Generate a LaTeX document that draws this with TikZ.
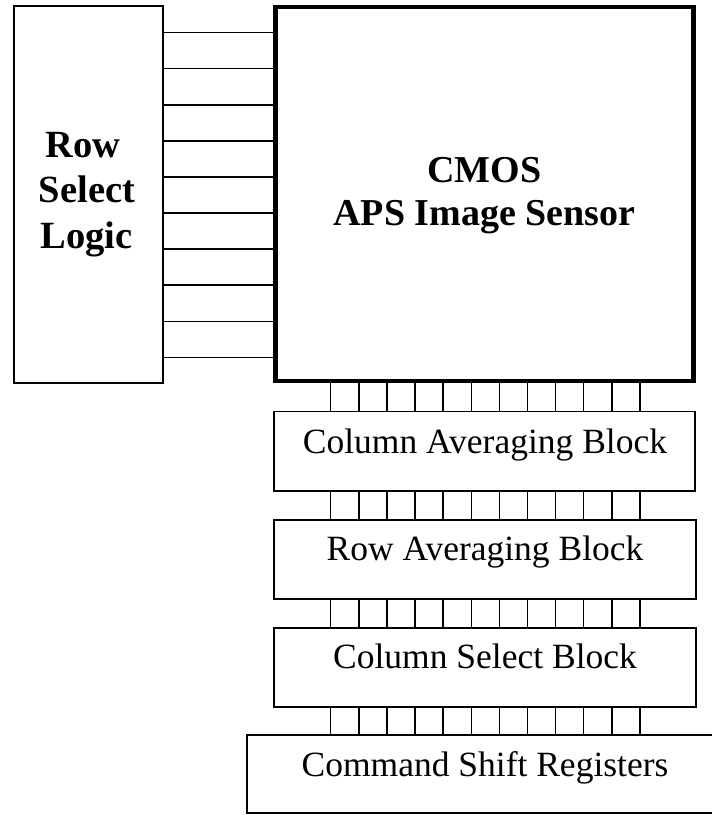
\documentclass[tikz,border=0pt]{standalone}
\usepackage{fontspec}
\setmainfont{Liberation Serif}
\begin{document}
\begin{tikzpicture}[x=1pt,y=-1pt,
  thinbox/.style={draw, line width=1.4pt, inner sep=0pt, outer sep=0pt, anchor=north west},
  thickbox/.style={draw, line width=4.5pt, inner sep=0pt, outer sep=0pt, anchor=north west},
  wire/.style={line width=1.4pt},
  boldlbl/.style={font=\fontsize{38.5}{44}\selectfont\bfseries, anchor=base, inner sep=0pt},
  bigbold/.style={font=\fontsize{38}{44}\selectfont\bfseries, anchor=base, inner sep=0pt},
  reglbl/.style={font=\fontsize{35.5}{40}\selectfont, anchor=base, inner sep=0pt}]
\fill[white] (0,0) rectangle (712,815);
\useasboundingbox (0,0) rectangle (712,815);
\clip (0,0) rectangle (712,815);

% blocks
\node[thinbox, minimum width=149pt, minimum height=377pt] (rsl) at (14,6) {};
\node[thickbox, minimum width=418pt, minimum height=374pt] (cmos) at (275.5,7) {};
\node[thinbox, minimum width=421pt, minimum height=79.5pt] (cab) at (274,411.5) {};
\node[thinbox, minimum width=422pt, minimum height=79pt] (rab) at (274,520) {};
\node[thinbox, minimum width=422pt, minimum height=79pt] (csb) at (274,628) {};
\node[thinbox, minimum width=480pt, minimum height=78pt] (csr) at (247,735) {};

% labels
\node[boldlbl] (t1) at (83,157) {Row};
\node[boldlbl] (t2) at (87,202) {Select};
\node[boldlbl] (t3) at (86.5,248) {Logic};
\node[bigbold] (t4) at (484.5,182) {CMOS};
\node[bigbold] (t5) at (484.5,225) {APS Image Sensor};
\node[reglbl] (t6) at (485,453) {Column Averaging Block};
\node[reglbl] (t7) at (485,560) {Row Averaging Block};
\node[reglbl] (t8) at (485,668) {Column Select Block};
\node[reglbl] (t9) at (485,776) {Command Shift Registers};

% row select wires
\foreach \i in {0,...,9} {
  \draw[wire] (rsl.east |- {0,32.7+36.07*\i}) -- (cmos.west |- {0,32.7+36.07*\i});
}
% column wires
\foreach \i in {0,...,11} {
  \draw[wire] (cmos.south -| {330.7+28.12*\i,0}) -- (cab.north -| {330.7+28.12*\i,0});
  \draw[wire] (cab.south -| {330.7+28.12*\i,0}) -- (rab.north -| {330.7+28.12*\i,0});
  \draw[wire] (rab.south -| {330.7+28.12*\i,0}) -- (csb.north -| {330.7+28.12*\i,0});
  \draw[wire] (csb.south -| {330.7+28.12*\i,0}) -- (csr.north -| {330.7+28.12*\i,0});
}
\end{tikzpicture}
\end{document}
